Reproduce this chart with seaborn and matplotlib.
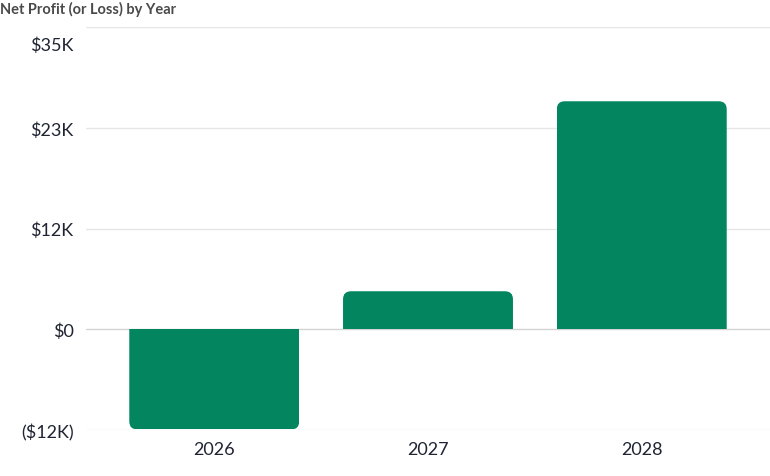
import matplotlib
matplotlib.use("Agg")
import matplotlib.pyplot as plt
import matplotlib.patches as mp
import matplotlib.transforms as mtrans
import seaborn as sns
import pandas as pd
from matplotlib.patches import FancyBboxPatch

years = ["2026", "2027", "2028"]
net_profit = [-11600, 4400, 26400]
tick_values = [-35000 / 3, 0, 35000 / 3, 70000 / 3, 35000]
tick_labels = ["($12K)", "$0", "$12K", "$23K", "$35K"]
title = "Net Profit (or Loss) by Year"

sns.set_theme(style="white")
plt.rcParams["font.family"] = ["Lato", "DejaVu Sans"]

df = pd.DataFrame({"year": years, "profit": net_profit})

fig = plt.figure(figsize=(7.7, 4.77), dpi=100)
ax = fig.add_axes([86 / 770, 1 - 431 / 477, 1 - 86 / 770, (431 - 28) / 477])

bar_color = "#03855f"
sns.barplot(data=df, x="year", y="profit", color=bar_color, width=0.795,
            saturation=1, ax=ax, zorder=3)

ax.set_xlim(-0.6, 2.6)
ax.set_ylim(tick_values[0], tick_values[-1])

# rounded outer corners
r_px = 8
x_per_px = 3.2 / (770 - 86)
y_per_px = (tick_values[-1] - tick_values[0]) / (431 - 28)
rx = r_px * x_per_px
aspect = y_per_px / x_per_px
for p in list(ax.patches):
    x0, w = p.get_x(), p.get_width()
    y0, h = p.get_y(), p.get_height()
    ylo, yhi = min(y0, y0 + h), max(y0, y0 + h)
    ext = r_px * y_per_px * 2
    if ylo >= 0:
        by, bh = ylo - ext, (yhi - ylo) + ext
    else:
        by, bh = ylo, (yhi - ylo) + ext
    fb = FancyBboxPatch((x0, by), w, bh,
                        boxstyle=f"round,pad=0,rounding_size={rx}",
                        mutation_aspect=aspect, facecolor=bar_color,
                        edgecolor="none", zorder=3)
    ax.add_patch(fb)
    p.set_visible(False)
    clip = mp.Rectangle((x0, ylo), w, yhi - ylo, transform=ax.transData)
    fb.set_clip_path(clip)

ax.set_yticks(tick_values)
ax.set_yticklabels(tick_labels)
for y in tick_values:
    ax.axhline(y, color="#d4d4d4" if y == 0 else "#e6e6e6", lw=1, zorder=1)

for s in ax.spines.values():
    s.set_visible(False)
ax.set_xlabel("")
ax.set_ylabel("")
ax.tick_params(axis="y", length=0, pad=9, labelsize=13, labelcolor="#1f2433")
ax.tick_params(axis="x", length=0, pad=8, labelsize=13, labelcolor="#1f2433")
top_lbl = ax.get_yticklabels()[-1]
top_lbl.set_transform(top_lbl.get_transform() +
                      mtrans.ScaledTranslation(0, -16 / 100, fig.dpi_scale_trans))

fig.text(0.0, 1 - 9 / 477, title, fontsize=10.5, fontweight="bold",
         color="#4a4a4a", ha="left", va="center")

fig.savefig("out.png", dpi=100)
